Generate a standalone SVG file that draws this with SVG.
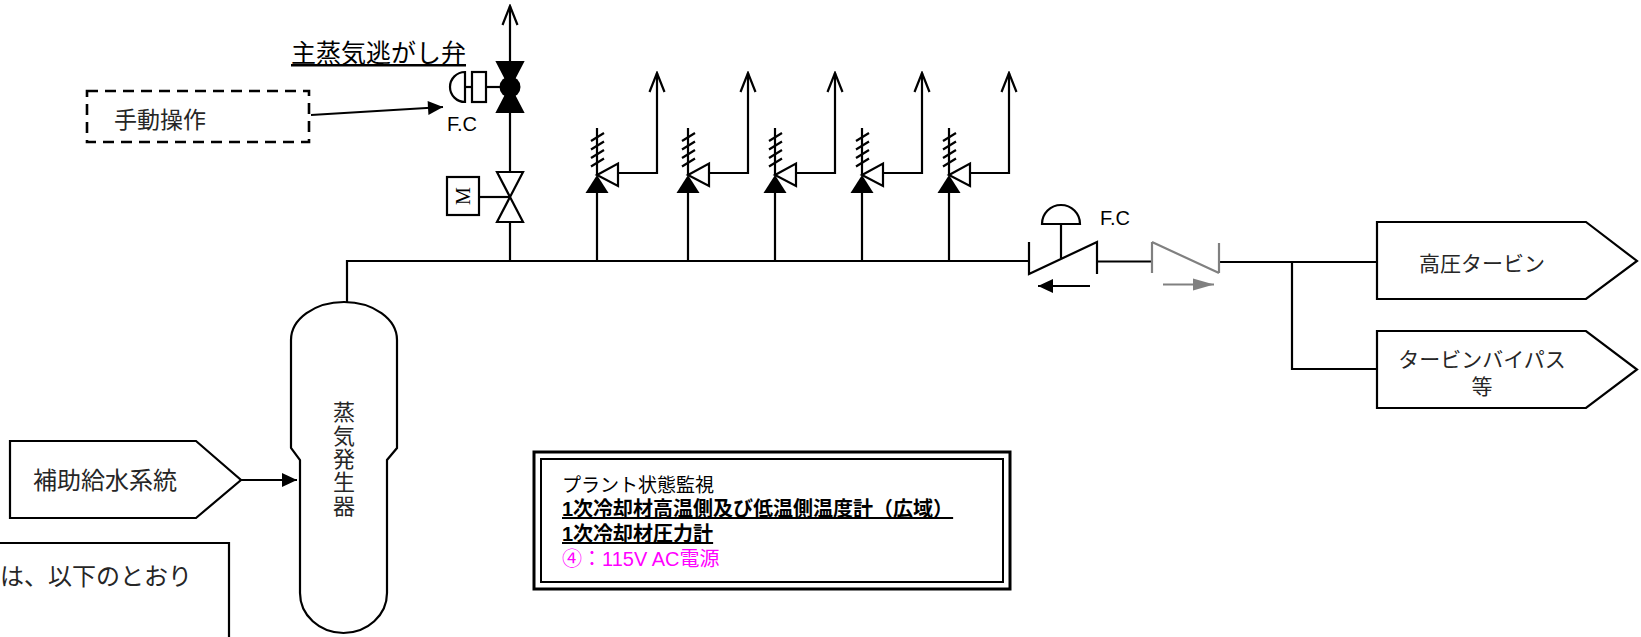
<svg xmlns="http://www.w3.org/2000/svg" xmlns:xlink="http://www.w3.org/1999/xlink" width="1641" height="637" viewBox="0 0 1641 637">
<style>
.ln{fill:none;stroke:#000;stroke-width:2.2}
.gr{fill:none;stroke:#808080;stroke-width:2.2}
.nd{fill:#fff;stroke:#000;stroke-width:2.2}
.jp{font-family:"Noto Sans CJK JP","Liberation Sans",sans-serif;fill:#262626}
.lat{font-family:"Liberation Sans","Noto Sans CJK JP",sans-serif;fill:#000}
.box{font-family:"Liberation Sans","Noto Sans CJK JP",sans-serif;font-size:19px;fill:#000}
.b{font-weight:bold;font-size:20px;text-decoration:underline}
.vt{writing-mode:vertical-rl;text-orientation:upright;letter-spacing:1.3px}
</style>
<defs>
<marker id="aF" markerUnits="userSpaceOnUse" viewBox="-20 -10 22 20" markerWidth="22" markerHeight="20" refX="0" refY="0" orient="auto">
<path d="M-15,-7 L0,0 L-15,7 Z" fill="#000"/>
</marker>
<marker id="aG" markerUnits="userSpaceOnUse" viewBox="-25 -10 27 20" markerWidth="27" markerHeight="20" refX="0" refY="0" orient="auto">
<path d="M-21,-6 L0,0 L-21,6 Z" fill="#808080"/>
</marker>
<marker id="aO" markerUnits="userSpaceOnUse" viewBox="-22 -10 24 20" markerWidth="24" markerHeight="20" refX="0" refY="0" orient="auto">
<path d="M-19,-7.5 L0,0 L-19,7.5" fill="none" stroke="#000" stroke-width="2.2"/>
</marker>
<g id="sv">
<path d="M0,128 L0,175" class="ln"/>
<path d="M-6,141 L7,133 M-6,149.5 L7,141.5 M-6,158 L7,150 M-6,166.5 L7,158.5" class="ln" stroke-width="1.8"/>
<path d="M0,175 L-11.5,193 L11.5,193 Z" fill="#000"/>
<path d="M0,175 L21,163.5 L21,186 Z" class="nd"/>
</g>
</defs>
<rect width="1641" height="637" fill="#fff"/>

<g id="connectors">
<path d="M347,302 L347,261 L1029,261" class="ln" stroke-width="2.5"/>
<path d="M1097,261.5 L1152,261.5" class="ln" stroke-width="2.5"/>
<path d="M1219,262 L1377,262" class="ln" stroke-width="2.5"/>
<path d="M1292,262 L1292,369 L1377,369" class="ln" stroke-width="2.5"/>
<path d="M510,62 L510,6" class="ln" marker-end="url(#aO)"/>
<path d="M510,112 L510,172" class="ln"/>
<path d="M510,222 L510,261" class="ln"/>
<path d="M597,261 L597,193 M688,261 L688,193 M775,261 L775,193 M862,261 L862,193 M949,261 L949,193" class="ln"/>
<path d="M618,173 L657,173 L657,73" class="ln" marker-end="url(#aO)"/>
<path d="M709,173 L748,173 L748,73" class="ln" marker-end="url(#aO)"/>
<path d="M796,173 L835,173 L835,73" class="ln" marker-end="url(#aO)"/>
<path d="M883,173 L922,173 L922,73" class="ln" marker-end="url(#aO)"/>
<path d="M970,173 L1009,173 L1009,73" class="ln" marker-end="url(#aO)"/>
<path d="M311,115 L443,107" class="ln" marker-end="url(#aF)"/>
<path d="M241,480 L297,480" class="ln" marker-end="url(#aF)"/>
<path d="M1090,286 L1038,286" class="ln" marker-end="url(#aF)"/>
<path d="M1163,284.5 L1214,284.5" class="gr" marker-end="url(#aG)"/>
</g>

<g id="msrv-label">
<text x="291" y="62" class="jp" font-size="25" text-decoration="underline" style="fill:#000">主蒸気逃がし弁</text>
</g>

<g id="msrv">
<path d="M486,87 L510,87" class="ln"/>
<rect x="472" y="72" width="14" height="30" class="nd"/>
<path d="M465,87 L472,87" class="ln"/>
<path d="M465,72 A15,15 0 0 0 465,102 Z" class="nd"/>
<path d="M497,62 L523,62 L497,112 L523,112 Z" fill="#000" stroke="#000" stroke-width="2" stroke-linejoin="miter"/>
<circle cx="510" cy="87" r="10.5" fill="#000"/>
<text x="447" y="131" class="lat" font-size="20">F.C</text>
</g>

<g id="manual">
<rect x="87" y="91" width="222" height="51" fill="none" stroke="#000" stroke-width="2.6" stroke-dasharray="11,7"/>
<text x="160" y="128" class="jp" font-size="23" text-anchor="middle">手動操作</text>
</g>

<g id="motor-valve">
<path d="M479,197 L510,197" class="ln"/>
<rect x="447" y="177" width="32" height="38" class="nd"/>
<text x="463" y="196" font-family="Liberation Serif,serif" font-size="20" text-anchor="middle" dominant-baseline="central" transform="rotate(-90 463 196)">M</text>
<path d="M497,172 L523,172 L497,222 L523,222 Z" class="nd" stroke-linejoin="miter"/>
</g>

<g id="safety-valve-1"><use xlink:href="#sv" x="597"/></g>
<g id="safety-valve-2"><use xlink:href="#sv" x="688"/></g>
<g id="safety-valve-3"><use xlink:href="#sv" x="775"/></g>
<g id="safety-valve-4"><use xlink:href="#sv" x="862"/></g>
<g id="safety-valve-5"><use xlink:href="#sv" x="949"/></g>

<g id="fc-valve">
<path d="M1029,242 L1029,274 L1097,242 L1097,274" class="ln" stroke-width="2.5" stroke-linejoin="miter"/>
<path d="M1061,224 L1061,258" class="ln"/>
<path d="M1042,224 A19,19 0 0 1 1080,224 Z" class="nd"/>
<text x="1100" y="225" class="lat" font-size="20">F.C</text>
</g>

<g id="check-valve">
<path d="M1152,242 L1152,273 M1152,242 L1219,273 M1219,243 L1219,273" class="gr" stroke-width="2.5"/>
</g>

<g id="steam-generator">
<path d="M291,340 A53,38 0 0 1 397,340 L397,448 L387,460 L387,593 A43.5,40 0 0 1 300,593 L300,460 L291,448 Z" class="nd"/>
<text x="344" y="401" class="jp vt" font-size="22" writing-mode="tb">蒸気発生器</text>
</g>

<g id="aux-feedwater">
<path d="M10,441 L196,441 L241,480 L196,518 L10,518 Z" class="nd"/>
<text x="105" y="489" class="jp" font-size="24" text-anchor="middle">補助給水系統</text>
</g>

<g id="hp-turbine">
<path d="M1377,222 L1586,222 L1637,261 L1586,299 L1377,299 Z" class="nd"/>
<text x="1482" y="271" class="jp" font-size="21" text-anchor="middle">高圧タービン</text>
</g>

<g id="turbine-bypass">
<path d="M1377,331 L1586,331 L1637,369.5 L1586,408 L1377,408 Z" class="nd"/>
<text x="1482" y="367" class="jp" font-size="21" text-anchor="middle">タービンバイパス</text>
<text x="1482" y="394" class="jp" font-size="21" text-anchor="middle">等</text>
</g>

<g id="note-box">
<path d="M-3,543 L229,543 L229,640" class="ln"/>
<text x="0" y="585" class="jp" font-size="24">は、以下のとおり</text>
</g>

<g id="monitor-box">
<rect x="534" y="452" width="476" height="137" fill="#fff" stroke="#000" stroke-width="3"/>
<rect x="541" y="459" width="462" height="123" fill="none" stroke="#000" stroke-width="2"/>
<text x="562" y="492" class="box">プラント状態監視</text>
<text x="562" y="516" class="box b">1次冷却材高温側及び低温側温度計（広域）</text>
<text x="562" y="541" class="box b">1次冷却材圧力計</text>
<text x="562" y="566" class="box" style="fill:#ff00ff;font-size:20px">④：115V AC電源</text>
</g>
</svg>
